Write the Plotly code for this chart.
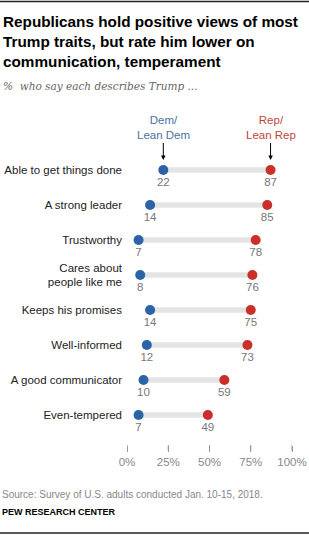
import plotly.graph_objects as go

categories = ["Able to get things done", "A strong leader", "Trustworthy",
              "Cares about<br>people like me", "Keeps his promises", "Well-informed",
              "A good communicator", "Even-tempered"]
dem = [22, 14, 7, 8, 14, 12, 10, 7]
rep = [87, 85, 78, 76, 75, 73, 59, 49]
tick_vals = [0, 25, 50, 75, 100]
tick_text = ["0%", "25%", "50%", "75%", "100%"]

W, H = 309, 535
BLUE = "#2a64a6"
RED = "#c9302a"
GRAY_BAR = "#e4e4e4"
ypos = list(range(len(categories)))

fig = go.Figure()

# connector bars
for i, (d, r) in enumerate(zip(dem, rep)):
    fig.add_trace(go.Scatter(x=[d, r], y=[i, i], mode="lines",
                             line=dict(color=GRAY_BAR, width=5.5),
                             hoverinfo="skip", showlegend=False, cliponaxis=False))

fig.add_trace(go.Scatter(x=dem, y=ypos, mode="markers+text",
                         marker=dict(color=BLUE, size=10),
                         text=[str(v) for v in dem], textposition="bottom center",
                         textfont=dict(family="Liberation Sans, Arial", size=11.5, color="#777777"),
                         showlegend=False, cliponaxis=False))
fig.add_trace(go.Scatter(x=rep, y=ypos, mode="markers+text",
                         marker=dict(color=RED, size=10),
                         text=[str(v) for v in rep], textposition="bottom center",
                         textfont=dict(family="Liberation Sans, Arial", size=11.5, color="#777777"),
                         showlegend=False, cliponaxis=False))

x0px, x1px = 127, 292
row_px = 35.0
ytop, ybot = 152.5, 445.0
y_span = (ybot - ytop) / row_px

fig.update_layout(
    width=W, height=H, margin=dict(l=0, r=0, t=0, b=0, autoexpand=False),
    plot_bgcolor="white", paper_bgcolor="white",
    xaxis=dict(range=[0, 100], domain=[x0px / W, x1px / W], automargin=False,
               showgrid=False, zeroline=False, showline=False,
               tickvals=tick_vals, ticktext=tick_text, ticks="outside", ticklen=6,
               tickcolor="#999999", tickwidth=1,
               tickfont=dict(family="Liberation Sans, Arial", size=11.5, color="#888888")),
    yaxis=dict(range=[-0.5 + y_span, -0.5], domain=[(H - ybot) / H, (H - ytop) / H],
               automargin=False,
               showgrid=False, zeroline=False, showline=False,
               tickvals=ypos, ticktext=categories, ticks="", ticklabelstandoff=4,
               tickfont=dict(family="Liberation Sans, Arial", size=11.5, color="#222222")),
)

def px_y(p):
    return 1 - p / H

# tick marks drawn as shapes on the x scale
for tv in tick_vals:
    fig.add_shape(type="line", xref="x", yref="paper", x0=tv, x1=tv,
                  y0=px_y(445), y1=px_y(451), line=dict(color="#999999", width=1))

# top/bottom rules
fig.add_shape(type="line", xref="paper", yref="paper", x0=0, x1=1, y0=1 - 1.5 / H, y1=1 - 1.5 / H,
              line=dict(color="#222222", width=1.5))
fig.add_shape(type="line", xref="paper", yref="paper", x0=0, x1=1, y0=2 / H, y1=2 / H,
              line=dict(color="#222222", width=1.5))

fig.add_annotation(xref="paper", yref="paper", x=1 / W, y=px_y(11), xanchor="left", yanchor="top",
                   align="left", showarrow=False,
                   text="<b>Republicans hold positive views of most<br>Trump traits, but rate him lower on<br>communication, temperament</b>",
                   font=dict(family="Liberation Sans, Arial", size=15.3, color="#000000"))
fig.add_annotation(xref="paper", yref="paper", x=1 / W, y=px_y(78), xanchor="left", yanchor="top",
                   showarrow=False, text="<i>%  who say each describes Trump ...</i>",
                   font=dict(family="DejaVu Serif, Liberation Serif", size=10.5, color="#666666"))

# group labels with arrows
fig.add_annotation(x=dem[0], y=0, xref="x", yref="y", text="Dem/<br>Lean Dem",
                   showarrow=True, ax=0, ay=-27, standoff=10, arrowhead=2, arrowsize=0.9,
                   arrowwidth=1, arrowcolor="#000000", yanchor="bottom",
                   font=dict(family="Liberation Sans, Arial", size=11.5, color="#4d71a0"))
fig.add_annotation(x=rep[0], y=0, xref="x", yref="y", text="Rep/<br>Lean Rep",
                   showarrow=True, ax=0, ay=-27, standoff=10, arrowhead=2, arrowsize=0.9,
                   arrowwidth=1, arrowcolor="#000000", yanchor="bottom",
                   font=dict(family="Liberation Sans, Arial", size=11.5, color="#c0453c"))

fig.add_annotation(xref="paper", yref="paper", x=0, y=px_y(494), xanchor="left", yanchor="middle",
                   showarrow=False, text="Source: Survey of U.S. adults conducted Jan. 10-15, 2018.",
                   font=dict(family="Liberation Sans, Arial", size=10, color="#888888"))
fig.add_annotation(xref="paper", yref="paper", x=0, y=px_y(512), xanchor="left", yanchor="middle",
                   showarrow=False, text="<b>PEW RESEARCH CENTER</b>",
                   font=dict(family="Liberation Sans, Arial", size=9, color="#000000"))

fig.write_html("out.html")
